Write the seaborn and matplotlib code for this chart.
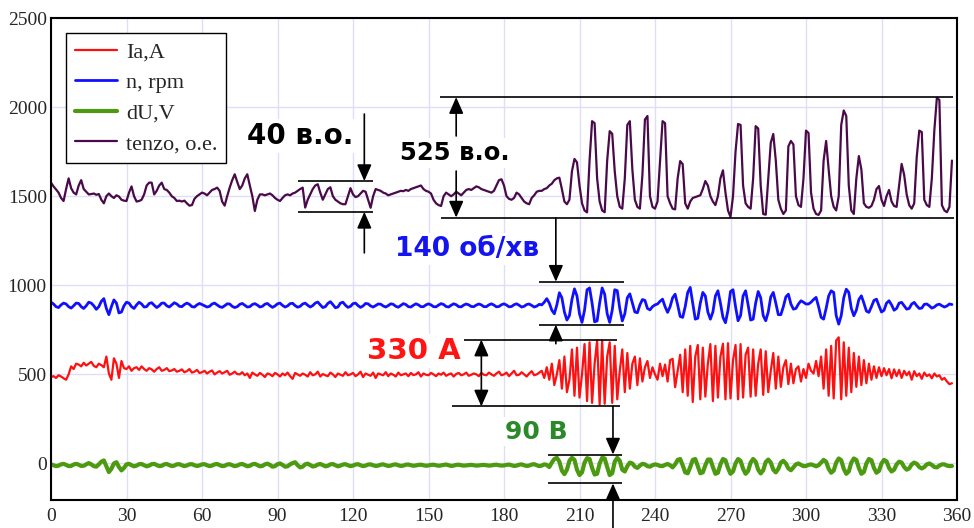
import matplotlib
matplotlib.use("Agg")
import matplotlib.pyplot as plt
import numpy as np
import seaborn as sns

# ---- data (one sample per second, 0..358 s) ----
ia = [
    485, 490, 480, 495, 488, 478, 470, 500, 545, 530,
    560, 555, 545, 565, 550, 560, 570, 548, 540, 560,
    552, 540, 600, 505, 470, 590, 560, 480, 575, 535,
    530, 545, 520, 535, 540, 525, 545, 530, 520, 535,
    528, 515, 530, 540, 520, 525, 535, 518, 522, 530,
    515, 520, 528, 512, 518, 530, 510, 515, 525, 508,
    512, 520, 505, 515, 522, 500, 510, 518, 505, 512,
    520, 498, 505, 515, 502, 500, 512, 495, 505, 480,
    510, 500, 492, 508, 498, 485, 505, 500, 490, 508,
    500, 488, 505, 495, 510, 490, 475, 508, 500, 492,
    505, 498, 488, 512, 495, 500, 515, 488, 502, 495,
    490, 510, 500, 485, 505, 498, 492, 512, 495, 500,
    508, 490, 500, 515, 485, 505, 498, 492, 510, 480,
    505, 500, 495, 512, 490, 505, 498, 488, 510, 495,
    500, 505, 490, 508, 496, 500, 512, 488, 505, 498,
    495, 508, 500, 490, 505, 498, 510, 492, 500, 505,
    488, 502, 508, 495, 500, 510, 492, 498, 505, 500,
    490, 508, 498, 495, 510, 500, 492, 505, 515, 495,
    500, 510, 490, 505, 520, 495, 498, 512, 500, 488,
    505, 518, 495, 500, 510, 520, 480, 540, 470, 560,
    440, 500, 580, 420, 600, 400, 470, 640, 380, 650,
    370, 500, 670, 350, 680, 340, 560, 690, 330, 690,
    335, 600, 680, 340, 660, 360, 520, 640, 400, 620,
    420, 560, 600, 440, 590, 460, 540, 575, 480, 540,
    500, 470, 560, 490, 555, 460, 580, 587, 428, 520,
    610, 400, 640, 380, 660, 345, 600, 665, 360, 650,
    375, 560, 670, 350, 660, 370, 600, 672, 360, 675,
    365, 580, 665, 360, 670, 370, 610, 650, 375, 640,
    380, 560, 640, 385, 630, 400, 520, 620, 420, 600,
    430, 540, 580, 445, 560, 450, 530, 545, 460, 530,
    480, 560, 520, 505, 575, 490, 600, 420, 640, 380,
    660, 365, 690, 708, 360, 680, 380, 650, 400, 620,
    430, 600, 440, 580, 450, 560, 470, 545, 480, 540,
    490, 535, 495, 530, 478, 528, 490, 525, 480, 520,
    495, 515, 470, 518, 490, 505, 475, 510, 490, 500,
    478, 505, 488, 495, 470, 480, 460, 445, 450,
]

n_rpm = [
    905, 895, 880, 875, 890, 900, 895, 880, 872, 885,
    900, 898, 880, 870, 885, 905, 900, 885, 865, 880,
    910, 925, 870, 835, 880, 918, 900, 845, 850, 885,
    905, 900, 880, 870, 890, 905, 895, 878, 880, 898,
    902, 888, 875, 885, 900, 900, 885, 878, 890, 902,
    895, 882, 880, 892, 900, 893, 880, 878, 890, 898,
    892, 885, 878, 882, 895, 900, 890, 880, 876, 885,
    896, 895, 882, 875, 880, 893, 898, 888, 878, 880,
    892, 897, 889, 878, 882, 894, 898, 886, 876, 884,
    896, 900, 887, 878, 884, 897, 899, 886, 877, 882,
    895, 900, 888, 878, 886, 900, 906, 890, 875, 880,
    898, 908, 892, 874, 878, 900, 905, 888, 876, 882,
    897, 900, 886, 876, 884, 898, 896, 884, 878, 886,
    895, 894, 884, 878, 886, 896, 893, 882, 877, 887,
    897, 892, 880, 878, 888, 896, 890, 880, 880, 890,
    896, 890, 880, 879, 889, 897, 892, 881, 878, 888,
    896, 891, 880, 879, 889, 895, 890, 881, 880, 889,
    895, 890, 880, 880, 890, 896, 889, 879, 881, 891,
    896, 889, 879, 881, 891, 896, 888, 878, 882, 892,
    895, 887, 878, 883, 893, 890, 905, 925, 900, 860,
    840, 890, 958, 930, 850, 805, 830, 920, 980, 940,
    840, 792, 860, 975, 985, 900, 795, 800, 900, 985,
    950, 840, 792, 860, 975, 970, 870, 800, 840, 930,
    952, 900, 850, 846, 890, 920, 915, 870, 862, 880,
    890, 895, 910, 922, 880, 848, 880, 930, 950, 890,
    825, 820, 880, 960, 988, 900, 810, 815, 900, 960,
    940, 850, 810, 850, 940, 969, 900, 820, 790, 860,
    965, 975, 880, 801, 830, 940, 969, 890, 805, 810,
    900, 965, 930, 830, 801, 850, 935, 960, 900, 835,
    835, 880, 935, 950, 895, 866, 870, 895, 913, 905,
    895, 895, 905, 920, 932, 880, 820, 810, 870, 940,
    969, 960, 830, 782, 830, 930, 978, 960, 870, 829,
    860, 920, 941, 900, 855, 848, 880, 915, 922, 885,
    850, 860, 900, 913, 890, 860, 870, 900, 904, 885,
    866, 870, 895, 904, 885, 870, 872, 893, 895, 885,
    872, 878, 890, 894, 885, 878, 884, 895, 892,
]

du = [
    -5, -10, -15, -12, -5, -2, -8, -15, -14, -6,
    -2, -7, -14, -13, -5, 2, -5, -15, -18, -5,
    10, 17, -15, -48, -30, 0, 7, -20, -39, -25,
    -5, -2, -10, -16, -12, -4, -3, -10, -16, -12,
    -4, -2, -9, -15, -13, -5, -3, -9, -15, -12,
    -5, -4, -10, -15, -11, -5, -4, -10, -14, -11,
    -5, -4, -10, -15, -12, -5, -3, -9, -15, -13,
    -6, -4, -10, -15, -12, -5, -3, -9, -16, -13,
    -5, -2, -9, -16, -14, -5, -1, -8, -18, -15,
    -4, 0, -8, -18, -16, -5, 2, 7, -10, -22,
    -18, -5, -1, -9, -17, -14, -6, -3, -9, -16,
    -13, -5, -3, -10, -16, -12, -6, -4, -10, -15,
    -12, -6, -4, -10, -15, -12, -6, -5, -10, -14,
    -12, -7, -5, -10, -14, -12, -7, -5, -10, -14,
    -12, -7, -6, -10, -13, -11, -8, -7, -10, -13,
    -11, -8, -7, -10, -13, -11, -8, -6, -10, -14,
    -12, -8, -7, -10, -12, -11, -9, -8, -10, -12,
    -11, -9, -8, -10, -12, -11, -8, -7, -10, -12,
    -11, -8, -6, -10, -14, -12, -7, -5, -10, -14,
    -12, -6, -4, -10, -15, -12, -5, -8, -20, 5,
    25, 32, 10, -40, -60, -35, 15, 32, 20, -35,
    -65, -50, 5, 30, 25, -25, -62, -58, 0, 32,
    28, -20, -65, -55, 10, 32, 15, -35, -45, -15,
    5, 0, -18, -25, -12, -2, -5, -15, -18, -10,
    -5, -8, -14, -15, -8, -3, -10, -22, -5, 20,
    25, -10, -50, -55, -20, 20, 25, -15, -55, -50,
    -10, 22, 22, -20, -58, -52, -5, 25, 18, -25,
    -58, -45, 0, 25, 15, -30, -58, -42, 5, 25,
    10, -35, -56, -38, 8, 22, 5, -35, -50, -30,
    5, 15, 0, -28, -38, -22, -5, 0, -8, -15,
    -14, -8, -5, -10, -16, -10, 5, 20, 10, -30,
    -52, -40, 5, 28, 18, -30, -58, -45, 5, 28,
    20, -25, -58, -48, 0, 25, 18, -25, -52, -42,
    0, 20, 12, -25, -45, -35, -5, 10, 5, -20,
    -35, -28, -5, 5, -2, -20, -28, -20, -5, 0,
    -8, -20, -22, -12, -5, -5, -12, -15, -14,
]

tenzo = [
    1576, 1555, 1538, 1520, 1490, 1473, 1540, 1600, 1545, 1520,
    1510, 1560, 1590, 1540, 1525, 1510, 1512, 1515, 1508, 1512,
    1480, 1460, 1500, 1515, 1500, 1490, 1505, 1498, 1480, 1475,
    1473, 1520, 1555, 1500, 1470, 1473, 1480, 1510, 1560, 1576,
    1576, 1510, 1530, 1560, 1576, 1540, 1535, 1520, 1500, 1490,
    1473, 1475, 1470, 1475, 1460, 1447, 1450, 1485, 1500, 1510,
    1520, 1515, 1505, 1520, 1535, 1540, 1548, 1530, 1470, 1447,
    1500, 1548, 1590, 1623, 1580, 1540, 1560, 1600, 1623, 1560,
    1500, 1417, 1480, 1510, 1510, 1505, 1510, 1515, 1505, 1490,
    1480, 1473, 1490, 1505, 1510, 1505, 1515, 1520, 1530, 1540,
    1548, 1436, 1480, 1510, 1540, 1560, 1567, 1520, 1480, 1510,
    1540, 1550, 1500, 1480, 1470, 1460, 1455, 1455, 1500, 1545,
    1510, 1495, 1500, 1515, 1530, 1525, 1480, 1435, 1500, 1540,
    1535, 1530, 1520, 1515, 1505, 1510, 1515, 1520, 1525, 1530,
    1528, 1535, 1530, 1540, 1545, 1550, 1555, 1560, 1540, 1530,
    1525, 1515, 1480, 1460, 1450, 1445, 1500, 1520, 1510, 1500,
    1510, 1525, 1515, 1505, 1520, 1535, 1540, 1535, 1545, 1555,
    1550, 1540, 1535, 1530, 1525, 1520, 1530, 1560, 1590, 1595,
    1560, 1500, 1485, 1480, 1490, 1520, 1510, 1490, 1470, 1460,
    1455, 1490, 1505, 1525, 1530, 1530, 1540, 1545, 1560, 1570,
    1590, 1600, 1604, 1540, 1470, 1455, 1480, 1640, 1709, 1690,
    1560, 1460, 1420, 1409, 1700, 1921, 1910, 1600, 1470, 1420,
    1410, 1700, 1865, 1850, 1640, 1500, 1440, 1430, 1600, 1900,
    1921, 1650, 1480, 1440, 1430, 1620, 1930, 1950, 1500, 1440,
    1430, 1470, 1700, 1921, 1910, 1500, 1460, 1430, 1426, 1600,
    1697, 1680, 1460, 1430, 1470, 1490, 1495, 1500, 1505, 1540,
    1585, 1560, 1500, 1470, 1450, 1500, 1600, 1645, 1520, 1420,
    1384, 1500, 1750, 1905, 1900, 1560, 1460, 1440, 1430, 1600,
    1893, 1880, 1560, 1400, 1396, 1600, 1800, 1849, 1700, 1480,
    1430, 1400, 1420, 1780, 1810, 1790, 1500, 1450, 1440, 1600,
    1868, 1855, 1520, 1430, 1400, 1395, 1420, 1700, 1810, 1650,
    1500, 1440, 1420, 1500, 1900, 1981, 1950, 1560, 1420, 1400,
    1600, 1725, 1650, 1460, 1440, 1435, 1445, 1480, 1540, 1557,
    1480, 1445, 1500, 1535, 1470, 1445, 1440, 1560, 1681, 1620,
    1510, 1450, 1430, 1460, 1720, 1868, 1860, 1480, 1450, 1440,
    1600, 1870, 2052, 2040, 1450, 1420, 1410, 1440, 1700,
]

t = np.arange(len(ia))

series_labels = ["Ia,A", "n, rpm", "dU,V", "tenzo, o.e."]
series_colors = ["#ff1010", "#1010ff", "#4c9a10", "#4a0a4a"]
series_widths = [1.6, 2.0, 3.0, 1.6]

sns.set_style("white")
plt.rcParams["font.family"] = ["Liberation Serif", "DejaVu Serif"]

fig = plt.figure(figsize=(9.74, 5.28), dpi=100)
ax = fig.add_axes([51 / 974, 28 / 528, 906 / 974, 482 / 528])

for vals, lab, col, lw in zip([ia, n_rpm, du, tenzo], series_labels,
                              series_colors, series_widths):
    sns.lineplot(x=t, y=vals, ax=ax, color=col, lw=lw, label=lab,
                 estimator=None, sort=False)

ax.set_xlim(0, 360)
ax.set_ylim(-205, 2500)
ax.set_xticks(range(0, 361, 30))
ax.set_yticks(range(0, 2501, 500))
ax.grid(True, color="#dedef8", lw=1)
ax.set_axisbelow(True)
ax.tick_params(length=0, labelsize=14)
ax.tick_params(axis="x", pad=6)
ax.tick_params(axis="y", pad=3)
for sp in ax.spines.values():
    sp.set_color("black")
    sp.set_linewidth(1.5)

leg = ax.legend(loc="upper left", bbox_to_anchor=(0.0166, 0.969),
                borderaxespad=0, fontsize=16, handlelength=1.9,
                handletextpad=0.4, labelspacing=0.45, fancybox=False,
                framealpha=1, edgecolor="black")
leg.get_frame().set_linewidth(1.0)

# ---- measurement marks ----
bold = dict(family="DejaVu Sans", fontweight="bold", ha="center", va="center",
            bbox=dict(facecolor="white", edgecolor="none", pad=2))
arr = dict(arrowstyle="-|>,head_length=0.5,head_width=0.22", color="black",
           lw=1.2, shrinkA=0, shrinkB=0, mutation_scale=20)


def arrow(x, y0, y1):
    ax.annotate("", xy=(x, y1), xytext=(x, y0), arrowprops=arr,
                annotation_clip=False)


# 40 в.о.
ax.hlines([1585, 1412], 98, 128, color="black", lw=1.2)
arrow(124.5, 1961, 1585)
arrow(124.5, 1182, 1412)
ax.text(99, 1837, "40 в.о.", fontsize=20, color="black", **bold)

# 525 в.о.
ax.hlines(2056, 154.5, 358.5, color="black", lw=1.2)
ax.hlines(1378, 155, 359, color="black", lw=1.2)
arrow(161, 1838, 2056)
arrow(161, 1641, 1380)
ax.text(160.5, 1742, "525 в.о.", fontsize=17.5, color="black", **bold)

# 140 об/хв
ax.hlines([1020, 779], 194, 227.6, color="black", lw=1.2)
arrow(200.6, 1378, 1020)
arrow(200.6, 672, 779)
ax.text(165.3, 1204, "140 об/хв", fontsize=19, color="#1414f0", **bold)

# 330 А
ax.hlines(695, 159, 225, color="black", lw=1.2)
ax.hlines(320, 159.5, 226, color="black", lw=1.2)
ax.annotate("", xy=(171, 695), xytext=(171, 320),
            arrowprops=dict(arr, arrowstyle="<|-|>,head_length=0.5,head_width=0.22"))
ax.text(144.2, 630, "330 А", fontsize=21, color="#ff1414", **bold)

# 90 В
ax.hlines([50, -112], 197.5, 227, color="black", lw=1.2)
arrow(223.3, 320, 50)
arrow(223.3, -370, -112)
ax.text(192.7, 179, "90 В", fontsize=18, color="#2a8a2a", **bold)

fig.savefig("out.png", dpi=100)
